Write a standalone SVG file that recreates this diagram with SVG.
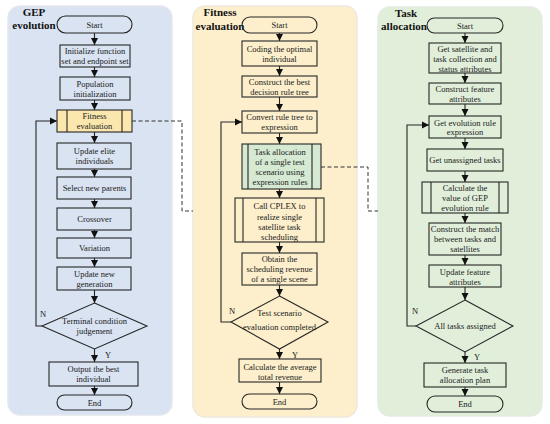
<svg xmlns="http://www.w3.org/2000/svg" width="550" height="424" viewBox="0 0 550 424">
<defs>
<style>
.bg1{fill:#d9e3f2;stroke:#e4e8ee;stroke-width:1.5}
.bg2{fill:#fdefcc;stroke:#efe9dc;stroke-width:1.5}
.bg3{fill:#e1efda;stroke:#e4ebe1;stroke-width:1.5}
.n{fill:none;stroke:#262626;stroke-width:1.1}
.y{fill:#fbe7ad;stroke:#262626;stroke-width:1.1}
.g{fill:#d6ead3;stroke:#262626;stroke-width:1.1}
.t{font-family:"Liberation Serif","Times New Roman",serif;font-size:8.5px;fill:#1a1a1a;text-anchor:middle}
.h{font-family:"Liberation Serif","Times New Roman",serif;font-size:11px;font-weight:bold;fill:#111}
.c{fill:none;stroke:#262626;stroke-width:1.1}
.d{fill:none;stroke:#333;stroke-width:1;stroke-dasharray:4,2.5}
</style>
<marker id="ah" markerUnits="userSpaceOnUse" markerWidth="8" markerHeight="8" viewBox="0 0 8 8" refX="7" refY="4" orient="auto">
<path d="M0,0.5 L7,4 L0,7.5 Z" fill="#111"/>
</marker>
</defs>

<rect class="bg1" x="8" y="6" width="164" height="409" rx="12"/>
<rect class="bg2" x="193" y="6" width="164" height="411" rx="12"/>
<rect class="bg3" x="378" y="7" width="164" height="409" rx="12"/>

<text class="h" x="34" y="16" text-anchor="middle">GEP</text>
<text class="h" x="34" y="29" text-anchor="middle">evolution</text>
<text class="h" x="220" y="16" text-anchor="middle">Fitness</text>
<text class="h" x="220" y="30" text-anchor="middle">evaluation</text>
<text class="h" x="406" y="17" text-anchor="middle">Task</text>
<text class="h" x="404" y="30" text-anchor="middle">allocation</text>

<g id="connectors">
<line class="c" x1="94.5" y1="33" x2="94.5" y2="45" marker-end="url(#ah)"/>
<line class="c" x1="94.5" y1="67" x2="94.5" y2="77" marker-end="url(#ah)"/>
<line class="c" x1="94.5" y1="100" x2="94.5" y2="110" marker-end="url(#ah)"/>
<line class="c" x1="94.5" y1="132" x2="94.5" y2="143" marker-end="url(#ah)"/>
<line class="c" x1="94.5" y1="169" x2="94.5" y2="177" marker-end="url(#ah)"/>
<line class="c" x1="94.5" y1="199" x2="94.5" y2="208" marker-end="url(#ah)"/>
<line class="c" x1="94.5" y1="230" x2="94.5" y2="238" marker-end="url(#ah)"/>
<line class="c" x1="94.5" y1="258" x2="94.5" y2="267" marker-end="url(#ah)"/>
<line class="c" x1="94.5" y1="290" x2="94.5" y2="303" marker-end="url(#ah)"/>
<line class="c" x1="94.5" y1="349" x2="94.5" y2="362" marker-end="url(#ah)"/>
<line class="c" x1="94.5" y1="386" x2="94.5" y2="395" marker-end="url(#ah)"/>
<polyline class="c" points="42,326 36,326 36,121 57,121" marker-end="url(#ah)"/>
<polyline class="d" points="132,121 182,121 182,211 193,211"/>

<line class="c" x1="279.5" y1="33" x2="279.5" y2="41" marker-end="url(#ah)"/>
<line class="c" x1="279.5" y1="66" x2="279.5" y2="76" marker-end="url(#ah)"/>
<line class="c" x1="279.5" y1="97" x2="279.5" y2="111" marker-end="url(#ah)"/>
<line class="c" x1="279.5" y1="133" x2="279.5" y2="144" marker-end="url(#ah)"/>
<line class="c" x1="279.5" y1="189" x2="279.5" y2="198" marker-end="url(#ah)"/>
<line class="c" x1="279.5" y1="242" x2="279.5" y2="253" marker-end="url(#ah)"/>
<line class="c" x1="279.5" y1="285" x2="279.5" y2="296" marker-end="url(#ah)"/>
<line class="c" x1="279.5" y1="349" x2="279.5" y2="359" marker-end="url(#ah)"/>
<line class="c" x1="279.5" y1="382" x2="279.5" y2="394" marker-end="url(#ah)"/>
<polyline class="c" points="231,322 221,322 221,122 242,122" marker-end="url(#ah)"/>
<polyline class="d" points="321,167 368,167 368,211 378,211"/>

<line class="c" x1="465" y1="33" x2="465" y2="43" marker-end="url(#ah)"/>
<line class="c" x1="465" y1="73" x2="465" y2="83" marker-end="url(#ah)"/>
<line class="c" x1="465" y1="104" x2="465" y2="116" marker-end="url(#ah)"/>
<line class="c" x1="465" y1="138" x2="465" y2="149" marker-end="url(#ah)"/>
<line class="c" x1="465" y1="171" x2="465" y2="182" marker-end="url(#ah)"/>
<line class="c" x1="465" y1="213" x2="465" y2="223" marker-end="url(#ah)"/>
<line class="c" x1="465" y1="255" x2="465" y2="265" marker-end="url(#ah)"/>
<line class="c" x1="465" y1="287" x2="465" y2="300" marker-end="url(#ah)"/>
<line class="c" x1="465" y1="352" x2="465" y2="363" marker-end="url(#ah)"/>
<line class="c" x1="465" y1="387" x2="465" y2="396" marker-end="url(#ah)"/>
<polyline class="c" points="416,326 407,326 407,125 429,125" marker-end="url(#ah)"/>

<text class="t" x="43" y="317">N</text>
<text class="t" x="108" y="358">Y</text>
<text class="t" x="232" y="314">N</text>
<text class="t" x="295" y="358">Y</text>
<text class="t" x="415" y="314">N</text>
<text class="t" x="477" y="360">Y</text>
</g>

<!-- Panel 1 -->
<g id="p1-start"><rect class="n" x="57" y="16" width="75" height="17" rx="8.5"/><text class="t" x="94.5" y="27.5">Start</text></g>
<g id="p1-init"><rect class="n" x="60" y="45" width="70" height="22"/><text class="t" x="95" y="54">Initialize function</text><text class="t" x="95" y="64">set and endpoint set</text></g>
<g id="p1-pop"><rect class="n" x="60" y="77" width="70" height="23"/><text class="t" x="95" y="86.5">Population</text><text class="t" x="95" y="96.5">initialization</text></g>
<g id="p1-fitness"><rect class="y" x="57" y="110" width="75" height="22"/><line class="c" x1="67" y1="110" x2="67" y2="132"/><line class="c" x1="122" y1="110" x2="122" y2="132"/><text class="t" x="94.5" y="119">Fitness</text><text class="t" x="94.5" y="129">evaluation</text></g>
<g id="p1-elite"><rect class="n" x="57" y="143" width="74" height="26"/><text class="t" x="94.5" y="154">Update elite</text><text class="t" x="94.5" y="164">individuals</text></g>
<g id="p1-select"><rect class="n" x="57" y="177" width="74" height="22"/><text class="t" x="94.5" y="191">Select new parents</text></g>
<g id="p1-cross"><rect class="n" x="57" y="208" width="74" height="22"/><text class="t" x="94.5" y="222">Crossover</text></g>
<g id="p1-var"><rect class="n" x="57" y="238" width="74" height="20"/><text class="t" x="94.5" y="251">Variation</text></g>
<g id="p1-update"><rect class="n" x="57" y="267" width="74" height="23"/><text class="t" x="94.5" y="276.5">Update new</text><text class="t" x="94.5" y="286.5">generation</text></g>
<g id="p1-judge"><polygon class="n" points="94.5,303 147,326 94.5,349 42,326"/><text class="t" x="94.5" y="324">Terminal condition</text><text class="t" x="94.5" y="334">judgement</text></g>
<g id="p1-output"><rect class="n" x="49" y="362" width="89" height="24"/><text class="t" x="93.5" y="372">Output the best</text><text class="t" x="93.5" y="382">individual</text></g>
<g id="p1-end"><rect class="n" x="57" y="395" width="75" height="15" rx="7.5"/><text class="t" x="94.5" y="405.5">End</text></g>

<!-- Panel 2 -->
<g id="p2-start"><rect class="n" x="242" y="17" width="75" height="16" rx="8"/><text class="t" x="279.5" y="28">Start</text></g>
<g id="p2-coding"><rect class="n" x="242" y="41" width="75" height="25"/><text class="t" x="279.5" y="52">Coding the optimal</text><text class="t" x="279.5" y="62">individual</text></g>
<g id="p2-construct"><rect class="n" x="242" y="76" width="75" height="21"/><text class="t" x="279.5" y="85">Construct the best</text><text class="t" x="279.5" y="94.5">decision rule tree</text></g>
<g id="p2-convert"><rect class="n" x="242" y="111" width="75" height="22"/><text class="t" x="279.5" y="120">Convert rule tree to</text><text class="t" x="279.5" y="130">expression</text></g>
<g id="p2-task"><rect class="g" x="242" y="144" width="79" height="45"/><line class="c" x1="248" y1="144" x2="248" y2="189"/><line class="c" x1="312" y1="144" x2="312" y2="189"/><text class="t" x="280" y="155">Task allocation</text><text class="t" x="280" y="165">of a single test</text><text class="t" x="280" y="175">scenario using</text><text class="t" x="280" y="185">expression rules</text></g>
<g id="p2-cplex"><rect class="n" x="235" y="198" width="89" height="44"/><line class="c" x1="243" y1="198" x2="243" y2="242"/><line class="c" x1="316" y1="198" x2="316" y2="242"/><text class="t" x="279.5" y="209">Call CPLEX to</text><text class="t" x="279.5" y="219.5">realize single</text><text class="t" x="279.5" y="230">satellite task</text><text class="t" x="279.5" y="240">scheduling</text></g>
<g id="p2-obtain"><rect class="n" x="242" y="253" width="75" height="32"/><text class="t" x="279.5" y="261.5">Obtain the</text><text class="t" x="279.5" y="272">scheduling revenue</text><text class="t" x="279.5" y="282">of a single scene</text></g>
<g id="p2-judge"><polygon class="n" points="279.5,296 328,322 279.5,349 231,322"/><text class="t" x="279.5" y="316">Test scenario</text><text class="t" x="279.5" y="330">evaluation completed</text></g>
<g id="p2-calc"><rect class="n" x="239" y="359" width="82" height="23"/><text class="t" x="280" y="369.5">Calculate the average</text><text class="t" x="280" y="379.5">total revenue</text></g>
<g id="p2-end"><rect class="n" x="242" y="394" width="75" height="15" rx="7.5"/><text class="t" x="279.5" y="404.5">End</text></g>

<!-- Panel 3 -->
<g id="p3-start"><rect class="n" x="427" y="18" width="76" height="15" rx="7.5"/><text class="t" x="465" y="28.5">Start</text></g>
<g id="p3-get"><rect class="n" x="429" y="43" width="72" height="30"/><text class="t" x="465" y="52">Get satellite and</text><text class="t" x="465" y="62">task collection and</text><text class="t" x="465" y="71.5">status attributes</text></g>
<g id="p3-feature"><rect class="n" x="429" y="83" width="72" height="21"/><text class="t" x="465" y="92">Construct feature</text><text class="t" x="465" y="101.5">attributes</text></g>
<g id="p3-rule"><rect class="n" x="429" y="116" width="72" height="22"/><text class="t" x="465" y="125.5">Get evolution rule</text><text class="t" x="465" y="135">expression</text></g>
<g id="p3-unassigned"><rect class="n" x="427" y="149" width="76" height="22"/><text class="t" x="465" y="163">Get unassigned tasks</text></g>
<g id="p3-calc"><rect class="n" x="422" y="182" width="86" height="31"/><line class="c" x1="431" y1="182" x2="431" y2="213"/><line class="c" x1="499" y1="182" x2="499" y2="213"/><text class="t" x="465" y="190.5">Calculate the</text><text class="t" x="465" y="200.5">value of GEP</text><text class="t" x="465" y="210.5">evolution rule</text></g>
<g id="p3-match"><rect class="n" x="429" y="223" width="72" height="32"/><text class="t" x="465" y="232">Construct the match</text><text class="t" x="465" y="242">between tasks and</text><text class="t" x="465" y="252">satellites</text></g>
<g id="p3-update"><rect class="n" x="429" y="265" width="72" height="22"/><text class="t" x="465" y="274.5">Update feature</text><text class="t" x="465" y="284.5">attributes</text></g>
<g id="p3-judge"><polygon class="n" points="465,300 513,326 465,352 416,326"/><text class="t" x="465" y="329">All tasks assigned</text></g>
<g id="p3-plan"><rect class="n" x="424" y="363" width="82" height="24"/><text class="t" x="465" y="373">Generate task</text><text class="t" x="465" y="383">allocation plan</text></g>
<g id="p3-end"><rect class="n" x="427" y="396" width="76" height="16" rx="8"/><text class="t" x="465" y="407">End</text></g>
</svg>
